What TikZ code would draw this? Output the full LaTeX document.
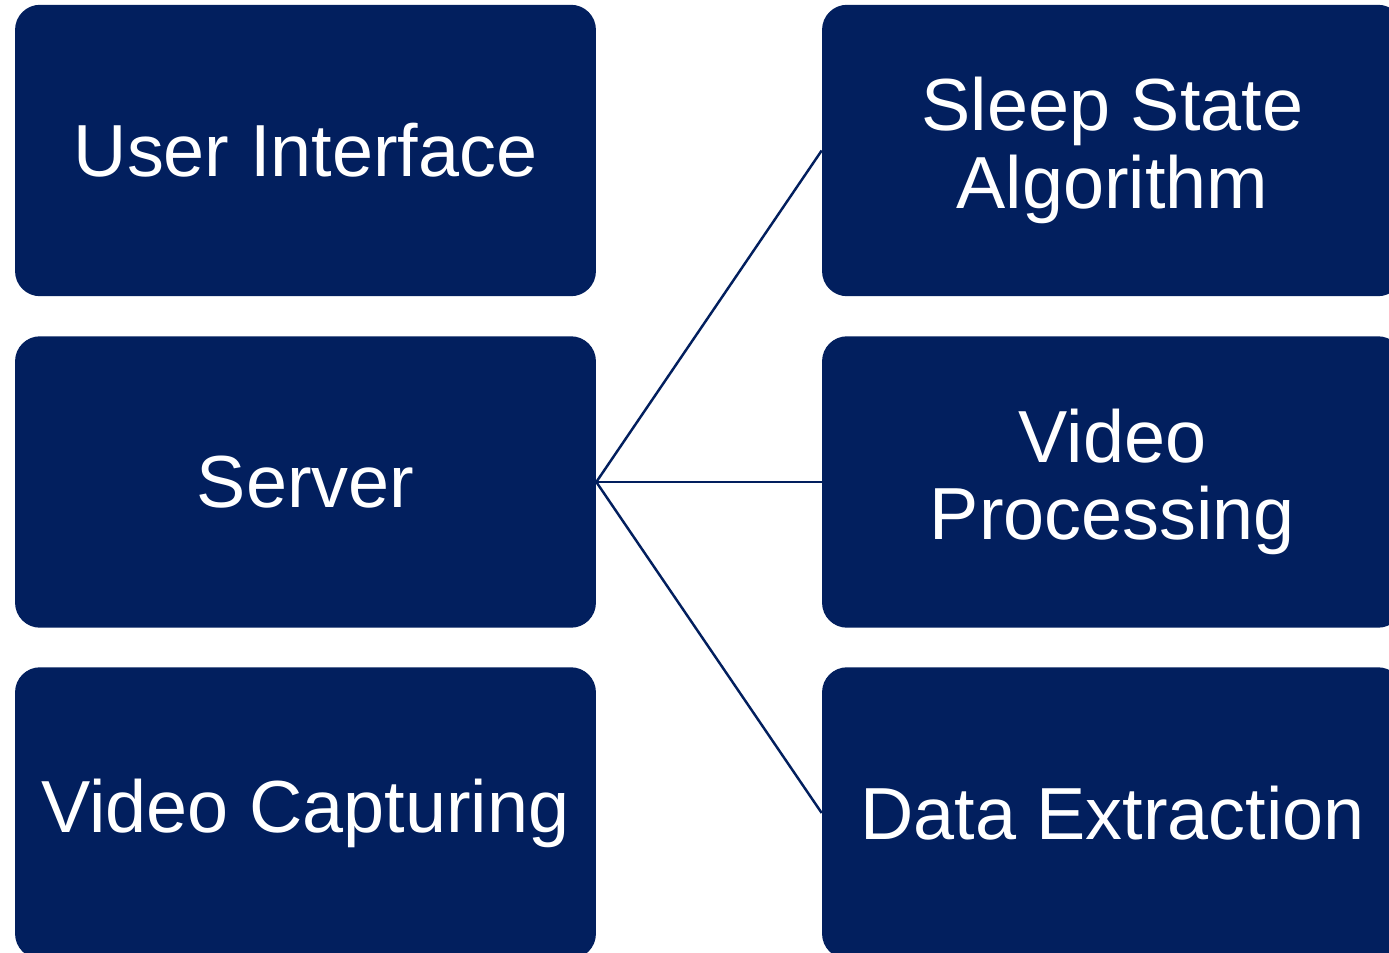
\documentclass[tikz,border=0pt]{standalone}
\usepackage{fontspec}
\setmainfont{Liberation Sans}
\usetikzlibrary{positioning}
\definecolor{navy}{HTML}{021F5E}
\tikzset{blk/.style={fill=navy,text=white,rounded corners=.5cm,minimum width=11.62cm,minimum height=5.83cm,inner sep=0pt,align=center,font=\fontsize{42}{44}\selectfont},
  lnk/.style={navy,line width=1.4pt}}

\begin{document}
\begin{tikzpicture}[x=.02cm,y=-.02cm]
\useasboundingbox (0,0) rectangle (1389,953);
% left column
\node[blk] (ui) at (305.5,150.5){User Interface};
\node[blk] (srv) at (305.5,482){Server};
\node[blk] (cap) at (305.5,813){Video Capturing};
% right column
\node[blk] (sleep) at (1112.5,150.5){Sleep State\\Algorithm};
\node[blk] (proc) at (1112.5,482){Video\\Processing};
\node[blk] (ext) at (1112.5,813){Data Extraction};
\draw[lnk] (srv.east) -- (sleep.west);
\draw[lnk] (srv.east) -- (proc.west);
\draw[lnk] (srv.east) -- (ext.west);
\end{tikzpicture}
\end{document}
